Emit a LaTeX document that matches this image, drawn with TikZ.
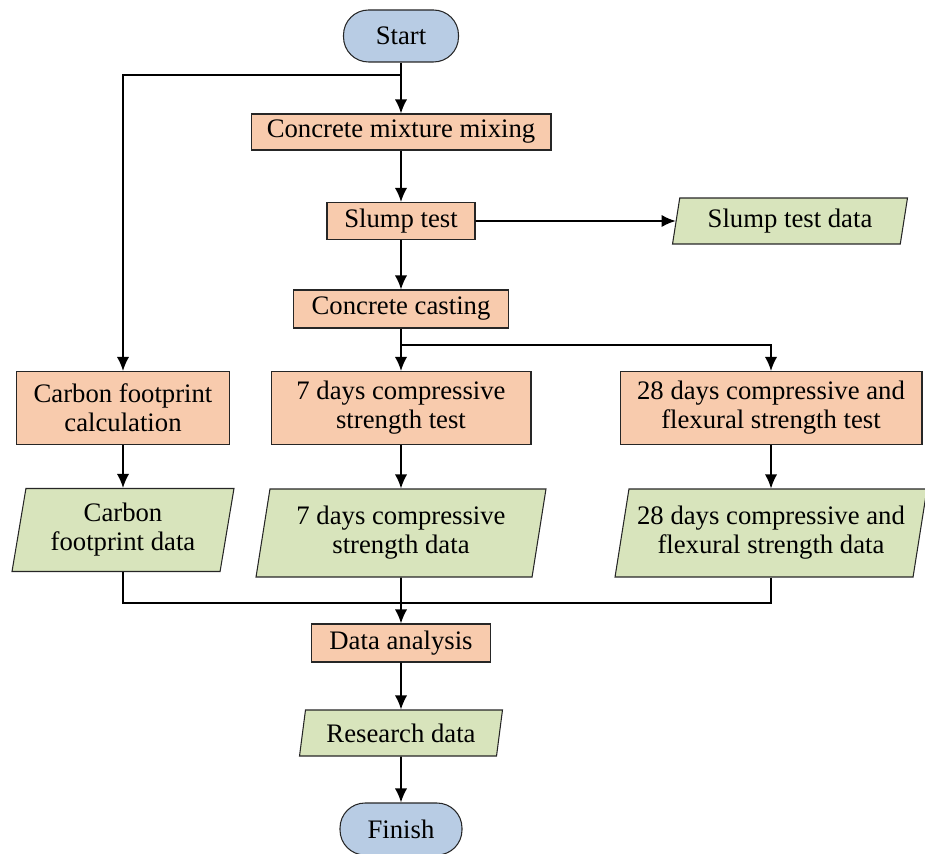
\documentclass[tikz,border=0pt]{standalone}
\usepackage{fontspec}
\setmainfont{Liberation Serif}
\usepackage{xcolor}
\usepackage{tikz}
\usetikzlibrary{arrows.meta, positioning, shapes.geometric}
\definecolor{corange}{HTML}{F8CBAD}
\definecolor{cgreen}{HTML}{D8E4BC}
\definecolor{cblue}{HTML}{B8CCE4}
\definecolor{cline}{HTML}{262626}

\begin{document}
\begin{tikzpicture}[x=0.02cm, y=-0.02cm,
    every node/.style={font=\fontsize{15.2}{16.5}\selectfont, align=center, inner sep=2pt},
    proc/.style={rectangle, draw=cline, line width=0.6pt, fill=corange},
    datum/.style={trapezium, trapezium left angle=77, trapezium right angle=103,
      trapezium stretches body, draw=cline, line width=0.6pt, fill=cgreen},
    term/.style={rectangle, rounded corners=0.5cm, draw=cline, line width=0.6pt, fill=cblue},
    flow/.style={-{Latex[length=8pt, width=7pt]}, line width=0.9pt},
    link/.style={line width=0.9pt}]

  \useasboundingbox (0,0) rectangle (925,854);

  %% terminals
  \node[term, minimum width=2.3cm, minimum height=1.04cm] (start) at (401,36) {Start};
  \node[term, minimum width=2.44cm, minimum height=1.04cm] (finish) at (401,829) {Finish};

  %% main column
  \node[proc, minimum width=6.0cm, minimum height=0.72cm] (mixing) at (401,132) {Concrete mixture mixing};
  \node[proc, minimum width=2.96cm, minimum height=0.74cm] (slump) at (401,221) {Slump test};
  \node[proc, minimum width=4.3cm, minimum height=0.76cm] (casting) at (401,309) {Concrete casting};
  \node[datum, minimum width=4.7cm, minimum height=0.92cm] (slumpdata) at (790,221) {Slump test data};

  %% tests
  \node[proc, minimum width=4.26cm, minimum height=1.46cm] (carbcalc) at (123,408)
    {Carbon footprint\\calculation};
  \node[proc, minimum width=5.2cm, minimum height=1.46cm] (test7) at (401,408)
    {7 days compressive\\strength test};
  \node[proc, minimum width=6.04cm, minimum height=1.46cm] (test28) at (771,408)
    {28 days compressive and\\flexural strength test};

  %% test data
  \node[datum, minimum width=4.44cm, minimum height=1.66cm] (carbdata) at (123,530)
    {Carbon\\footprint data};
  \node[datum, minimum width=5.8cm, minimum height=1.76cm] (data7) at (401,533)
    {7 days compressive\\strength data};
  \node[datum, minimum width=6.24cm, minimum height=1.76cm] (data28) at (771,533)
    {28 days compressive and\\flexural strength data};

  %% analysis
  \node[proc, minimum width=3.58cm, minimum height=0.76cm] (analysis) at (401,643) {Data analysis};
  \node[datum, minimum width=4.06cm, minimum height=0.92cm] (research) at (401,733) {Research data};

  %% branch points
  \coordinate (split1) at (401,75);
  \coordinate (split2) at (401,345);
  \coordinate (join) at (401,603);

  %% connectors
  \draw[flow] (start) -- (mixing);
  \draw[flow] (split1) -| (carbcalc);
  \draw[flow] (mixing) -- (slump);
  \draw[flow] (slump) -- (slumpdata);
  \draw[flow] (slump) -- (casting);
  \draw[flow] (casting) -- (test7);
  \draw[flow] (split2) -| (test28);
  \draw[flow] (carbcalc) -- (carbdata);
  \draw[flow] (test7) -- (data7);
  \draw[flow] (test28) -- (data28);
  \draw[link] (carbdata) |- (join);
  \draw[link] (data28) |- (join);
  \draw[flow] (data7) -- (analysis);
  \draw[flow] (analysis) -- (research);
  \draw[flow] (research) -- (finish);

\end{tikzpicture}
\end{document}
